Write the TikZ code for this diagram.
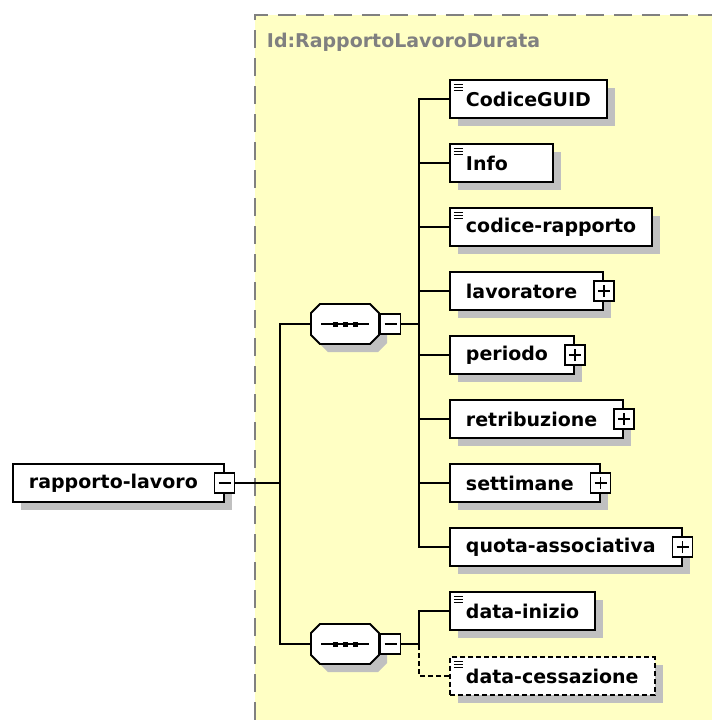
\documentclass[tikz,border=0pt]{standalone}
\usepackage{fontspec}
\setmainfont{DejaVu Sans}
\usetikzlibrary{positioning, shadows}
\definecolor{schemabg}{RGB}{255,255,196}
\definecolor{shadowgray}{RGB}{192,192,192}
\definecolor{framegray}{RGB}{128,128,128}

\begin{document}
\begin{tikzpicture}[x=0.02cm, y=-0.02cm, line width=1.1pt]
    \tikzstyle{every node}=[font=\fontsize{10.8}{13}\selectfont\bfseries]
    \tikzstyle{boxshadow}=[general shadow={fill=shadowgray, shadow xshift=0.16cm, shadow yshift=-0.16cm}]
    \tikzstyle{element}=[draw=black, fill=white, rectangle, anchor=west, minimum height=0.76cm, inner xsep=0.32cm, inner ysep=0pt, boxshadow]
    \tikzstyle{simple}=[element, path picture={
        \foreach \k in {0.08,0.14,0.2}
            \draw[black, solid, line width=0.5pt] ([xshift=0.08cm,yshift=-\k cm]path picture bounding box.north west) -- ++(0.18cm,0);
    }]
    \tikzstyle{complex}=[element, execute at end node={\hspace{0.2cm}}]
    \tikzstyle{expander}=[draw=black, fill=white, rectangle, minimum size=0.4cm, inner sep=0pt, line width=0.8pt]
    \tikzstyle{minusbox}=[expander, path picture={
        \draw[black, line width=0.8pt] ([xshift=-0.12cm]path picture bounding box.center) -- ++(0.24cm,0);
    }]
    \tikzstyle{plusbox}=[expander, path picture={
        \draw[black, line width=0.8pt] ([xshift=-0.12cm]path picture bounding box.center) -- ++(0.24cm,0)
            ([yshift=-0.12cm]path picture bounding box.center) -- ++(0,0.24cm);
    }]
    \tikzstyle{seqframe}=[rectangle, minimum width=1.36cm, minimum height=0.8cm, inner sep=0pt]

    \useasboundingbox (0,0) rectangle (712,720);

    % schema region
    \fill[schemabg] (255,15) rectangle (712,720);
    \draw[framegray, line width=0.04cm, dash pattern=on 0.36cm off 0.2cm] (255,720) -- (255,15) -- (712,15);
    \node[anchor=west, text=framegray, inner sep=0pt] (title) at (266,42) {Id:RapportoLavoroDurata};

    % root element
    \node[complex] (root) at (12,483) {rapporto-lavoro};
    \node[minusbox] (root-m) at (root.east) {};

    % the two sequences (octagon, shadow and dots)
    \foreach \i/\y in {1/324, 2/644}{
        \coordinate (C-\i) at (345,\y);
        \fill[shadowgray] ([shift={(8,8)}]C-\i) +(-25,-20) -- +(25,-20) -- +(34,-11) -- +(34,11)
            -- +(25,20) -- +(-25,20) -- +(-34,11) -- +(-34,-11) -- cycle;
        \draw[fill=white] (C-\i) +(-25,-20) -- +(25,-20) -- +(34,-11) -- +(34,11)
            -- +(25,20) -- +(-25,20) -- +(-34,11) -- +(-34,-11) -- cycle;
        \draw[line width=0.9pt] (C-\i) +(-24,0) -- +(24,0);
        \foreach \d in {-10,0,10}
            \fill (C-\i) +(\d-2.5,-2.5) rectangle +(\d+2.5,2.5);
        \node[seqframe] (S-\i) at (C-\i) {};
        \node[minusbox, anchor=west] (M-\i) at (S-\i.east) {};
    }

    \foreach \i in {1,2}
        \draw (S-\i.west) -- ++(-30,0) |- (root-m.east);

    % children of the first sequence
    \node[simple] (E-1) at (449,99) {CodiceGUID};
    \node[simple, text width=1.42cm] (E-2) at (449,163) {Info};
    \node[simple] (E-3) at (449,227) {codice-rapporto};
    \foreach \i/\name/\y in {4/lavoratore/291, 5/periodo/355, 6/retribuzione/419, 7/settimane/483, 8/quota-associativa/547}{
        \node[complex] (E-\i) at (449,\y) {\name};
        \node[plusbox] (P-\i) at (E-\i.east) {};
    }
    \foreach \i in {1,...,8}
        \draw (E-\i.west) -- ++(-30,0) |- (M-1.east);

    % children of the second sequence
    \node[simple] (E-9) at (449,611) {data-inizio};
    \node[simple, dash pattern=on 0.1cm off 0.06cm] (E-10) at (449,676) {data-cessazione};
    \draw[dash pattern=on 0.1cm off 0.06cm] (E-10.west) -- ++(-30,0) |- (M-2.east);
    \draw (E-9.west) -- ++(-30,0) |- (M-2.east);
\end{tikzpicture}
\end{document}
